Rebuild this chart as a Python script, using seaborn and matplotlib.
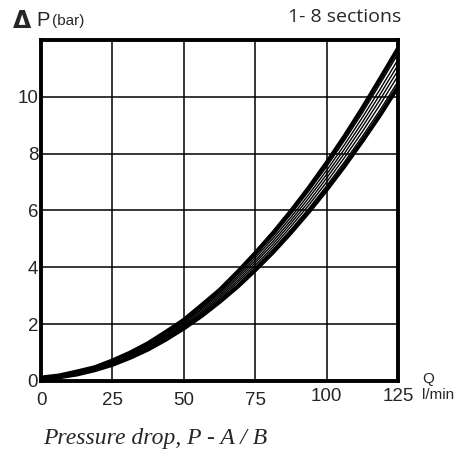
import numpy as np
import pandas as pd
import matplotlib
matplotlib.use("Agg")
import matplotlib.pyplot as plt
import matplotlib.transforms as mtrans
import seaborn as sns

# flow (l/min) and pressure drop (bar) for sections 1..8
q = [0, 6.25, 12.5, 18.75, 25, 31.25, 37.5, 43.75, 50, 56.25, 62.5,
     68.75, 75, 81.25, 87.5, 93.75, 100, 106.25, 112.5, 118.75, 125]
p_1 = [0.08, 0.13, 0.23, 0.38, 0.57, 0.82, 1.11, 1.46, 1.85, 2.29, 2.78,
       3.31, 3.90, 4.53, 5.22, 5.95, 6.73, 7.56, 8.44, 9.36, 10.35]
p_2 = [0.09, 0.14, 0.24, 0.39, 0.59, 0.85, 1.14, 1.50, 1.89, 2.34, 2.84,
       3.38, 3.99, 4.63, 5.33, 6.07, 6.87, 7.71, 8.61, 9.54, 10.54]
p_3 = [0.09, 0.15, 0.26, 0.41, 0.61, 0.87, 1.17, 1.54, 1.94, 2.40, 2.90,
       3.46, 4.07, 4.72, 5.44, 6.19, 7.00, 7.86, 8.77, 9.73, 10.74]
p_4 = [0.10, 0.16, 0.27, 0.42, 0.63, 0.90, 1.20, 1.58, 1.98, 2.45, 2.96,
       3.53, 4.16, 4.82, 5.55, 6.31, 7.14, 8.01, 8.94, 9.91, 10.93]
p_5 = [0.10, 0.16, 0.29, 0.44, 0.66, 0.92, 1.24, 1.61, 2.02, 2.51, 3.02,
       3.61, 4.24, 4.92, 5.65, 6.44, 7.27, 8.16, 9.10, 10.09, 11.12]
p_6 = [0.11, 0.17, 0.30, 0.45, 0.68, 0.95, 1.27, 1.65, 2.06, 2.56, 3.08,
       3.68, 4.33, 5.02, 5.76, 6.56, 7.41, 8.31, 9.27, 10.27, 11.31]
p_7 = [0.11, 0.18, 0.32, 0.47, 0.70, 0.97, 1.30, 1.69, 2.11, 2.62, 3.14,
       3.76, 4.41, 5.11, 5.87, 6.68, 7.54, 8.46, 9.43, 10.46, 11.51]
p_8 = [0.12, 0.19, 0.33, 0.48, 0.72, 1.00, 1.33, 1.73, 2.15, 2.67, 3.20,
       3.83, 4.50, 5.21, 5.98, 6.80, 7.68, 8.61, 9.60, 10.64, 11.70]
curves = [p_1, p_2, p_3, p_4, p_5, p_6, p_7, p_8]

x_ticks = [0, 25, 50, 75, 100, 125]
y_ticks = [0, 2, 4, 6, 8, 10]

sns.set_style("white")
plt.rcParams['font.family'] = ['Liberation Sans', 'DejaVu Sans']

fig = plt.figure(figsize=(4.63, 4.54), dpi=100)
ax = fig.add_axes([0.0886, 0.1608, 0.771, 0.7511])

for i, p in enumerate(curves):
    outer = i == 0 or i == len(curves) - 1
    df = pd.DataFrame({"Q": q, "P": p})
    sns.lineplot(data=df, x="Q", y="P", ax=ax, color="black",
                 lw=3.0 if outer else 1.0, zorder=3)

ax.set_xlim(0, 125)
ax.set_ylim(0, 12)
ax.set_xticks(x_ticks)
ax.set_yticks(y_ticks)
ax.set_xticklabels([str(t) for t in x_ticks], fontsize=13.5)
ax.set_yticklabels([str(t) for t in y_ticks], fontsize=13.5)
ax.tick_params(axis="x", length=0, pad=8)
ax.tick_params(axis="y", length=0, pad=2)
# the last two x labels sit a little higher in the original
for lab in ax.get_xticklabels()[4:]:
    lab.set_transform(lab.get_transform() +
                      mtrans.ScaledTranslation(0, 3 / 72, fig.dpi_scale_trans))
ax.set_xlabel("")
ax.set_ylabel("")
ax.grid(True, color="black", lw=1.1)
for s in ax.spines.values():
    s.set_color("black")
    s.set_linewidth(2.8)

fig.text(0.028, 0.954, "Δ", fontsize=17, fontweight="bold", va="center",
         family=["DejaVu Sans"])
fig.text(0.079, 0.955, "P", fontsize=14.5, va="center")
fig.text(0.112, 0.953, "(bar)", fontsize=11, va="center")
fig.text(0.866, 0.963, "1- 8 sections", fontsize=14, ha="right", va="center",
         family=["Open Sans", "DejaVu Sans"])
fig.text(0.924, 0.166, "Q", fontsize=11, ha="center", va="center")
fig.text(0.911, 0.129, "l/min", fontsize=11, ha="left", va="center")
fig.text(0.093, 0.035, "Pressure drop, P - A / B", fontsize=17, style="italic",
         family=["Liberation Serif", "DejaVu Serif"], va="center")

fig.savefig("out.png", dpi=100)
